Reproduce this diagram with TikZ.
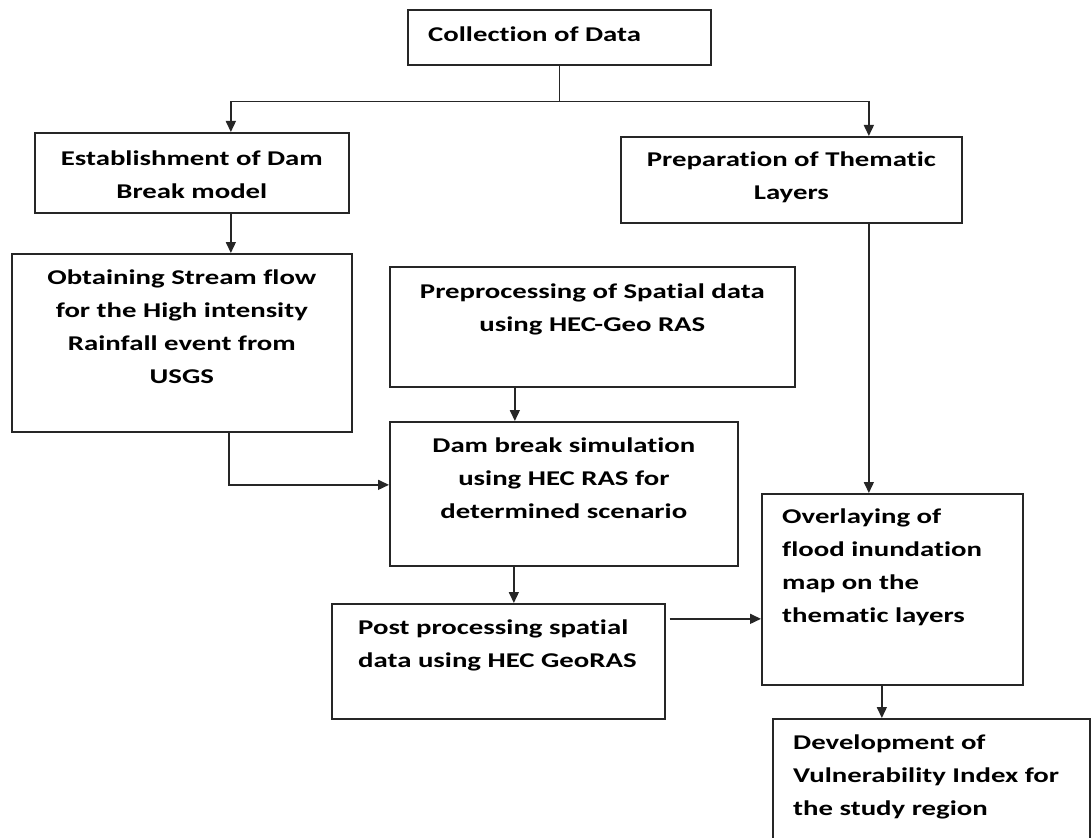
\documentclass[tikz,border=0pt]{standalone}
\usepackage{fontspec}
\setmainfont{Carlito}[FakeStretch=1.37,Ligatures=NoCommon]
\usetikzlibrary{arrows.meta,positioning}

\tikzset{
  box/.style={draw=black!85, line width=1.7pt, anchor=north west, inner sep=0pt},
  boxtext/.style={font=\bfseries\fontsize{21}{33}\selectfont, inner sep=0pt, align=center, anchor=north},
  lefttext/.style={boxtext, align=left, anchor=north west},
  flow/.style={draw=black!85, line width=1.5pt, -{Triangle[length=11pt,width=10pt]}}
}

\begin{document}
\begin{tikzpicture}[x=1pt,y=-1pt]
		\clip (0,0) rectangle (1091,837);
		\fill[white] (0,0) rectangle (1091,837);
		% boxes
		\node[box, minimum width=303pt, minimum height=55pt] (data) at (407,9) {};
		\node[box, minimum width=314pt, minimum height=80pt] (model) at (34,132) {};
		\node[box, minimum width=341pt, minimum height=86pt] (layers) at (620,136) {};
		\node[box, minimum width=340pt, minimum height=178pt] (flow) at (11,253) {};
		\node[box, minimum width=405pt, minimum height=120pt] (prep) at (389,266) {};
		\node[box, minimum width=348pt, minimum height=144pt] (sim) at (389,421) {};
		\node[box, minimum width=333pt, minimum height=115pt] (post) at (331,603) {};
		\node[box, minimum width=261pt, minimum height=191pt] (overlay) at (761,493) {};
		\node[box, minimum width=317pt, minimum height=140pt] (index) at (772,718) {};
		% texts
		\node[lefttext] (data-t) at ([xshift=21pt,yshift=-18pt]data.north west) {Collection of Data};
		\node[boxtext] (model-t) at ([yshift=-19pt]model.north) {Establishment of Dam\\Break model};
		\node[boxtext] (layers-t) at ([yshift=-16pt]layers.north) {Preparation of Thematic\\Layers};
		\node[boxtext] (flow-t) at ([yshift=-17pt]flow.north) {Obtaining Stream flow\\for the High intensity\\Rainfall event from\\USGS};
		\node[boxtext] (prep-t) at ([yshift=-18pt]prep.north) {Preprocessing of Spatial data\\using HEC-Geo RAS};
		\node[boxtext] (sim-t) at ([yshift=-17pt]sim.north) {Dam break simulation\\using HEC RAS for\\determined scenario};
		\node[lefttext] (post-t) at ([xshift=27pt,yshift=-17pt]post.north west) {Post processing spatial\\data using HEC GeoRAS};
		\node[lefttext] (overlay-t) at ([xshift=21pt,yshift=-16pt]overlay.north west) {Overlaying of\\flood inundation\\map on the\\thematic layers};
		\node[lefttext] (index-t) at ([xshift=21pt,yshift=-17pt]index.north west) {Development of\\Vulnerability Index for\\the study region};
		% connectors
		\coordinate (split) at ([yshift=-36pt]data.south);
		\draw[line width=1.5pt, draw=black!85] (data.south) -- (split);
		\draw[flow] (split) -| ([xshift=39pt]model.north);
		\draw[flow] (split) -| ([xshift=77.5pt]layers.north);
		\draw[flow] ([xshift=39pt]model.south) -- ([xshift=39pt]model.south |- flow.north);
		\draw[flow] ([xshift=77.5pt]layers.south) -- ([xshift=77.5pt]layers.south |- overlay.north);
		\draw[flow] ([xshift=-77.5pt]prep.south) -- ([xshift=-77.5pt]prep.south |- sim.north);
		\draw[flow] ([xshift=47pt]flow.south) |- ([yshift=9pt]sim.west);
		\draw[flow] ([xshift=-50pt]sim.south) -- ([xshift=-50pt]sim.south |- post.north);
		\draw[flow] ([xshift=4pt,yshift=42.5pt]post.east) -- ([yshift=42.5pt]post.east -| overlay.west);
		\draw[flow] ([xshift=-10.5pt]overlay.south) -- ([xshift=-10.5pt]overlay.south |- index.north);
	\end{tikzpicture}
\end{document}
